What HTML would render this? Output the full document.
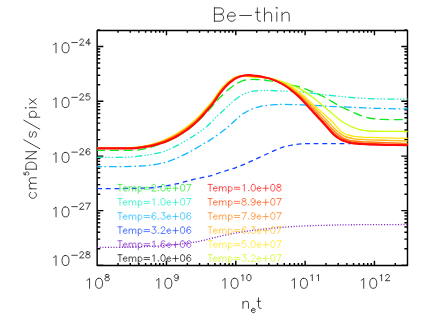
<!DOCTYPE html>
<html><head><meta charset="utf-8"><title>Be-thin</title>
<style>html,body{margin:0;padding:0;background:#fff;font-family:"Liberation Sans",sans-serif}svg{display:block}</style></head>
<body>
<svg width="436" height="327" viewBox="0 0 436 327">
<rect width="436" height="327" fill="#fff"/>
<defs><clipPath id="c"><rect x="97.15" y="30.5" width="310.75" height="234.95"/></clipPath></defs>
<path d="M97.15 30.5 H407.5 V265.45 H97.15 Z M97.15 265.45 v-4.7 M97.15 30.5 v4.7 M118.02 265.45 v-2.35 M118.02 30.5 v2.35 M130.22 265.45 v-2.35 M130.22 30.5 v2.35 M138.88 265.45 v-2.35 M138.88 30.5 v2.35 M145.6 265.45 v-2.35 M145.6 30.5 v2.35 M151.09 265.45 v-2.35 M151.09 30.5 v2.35 M155.73 265.45 v-2.35 M155.73 30.5 v2.35 M159.75 265.45 v-2.35 M159.75 30.5 v2.35 M163.3 265.45 v-2.35 M163.3 30.5 v2.35 M166.47 265.45 v-4.7 M166.47 30.5 v4.7 M187.34 265.45 v-2.35 M187.34 30.5 v2.35 M199.54 265.45 v-2.35 M199.54 30.5 v2.35 M208.2 265.45 v-2.35 M208.2 30.5 v2.35 M214.92 265.45 v-2.35 M214.92 30.5 v2.35 M220.41 265.45 v-2.35 M220.41 30.5 v2.35 M225.05 265.45 v-2.35 M225.05 30.5 v2.35 M229.07 265.45 v-2.35 M229.07 30.5 v2.35 M232.62 265.45 v-2.35 M232.62 30.5 v2.35 M235.79 265.45 v-4.7 M235.79 30.5 v4.7 M256.66 265.45 v-2.35 M256.66 30.5 v2.35 M268.86 265.45 v-2.35 M268.86 30.5 v2.35 M277.52 265.45 v-2.35 M277.52 30.5 v2.35 M284.24 265.45 v-2.35 M284.24 30.5 v2.35 M289.73 265.45 v-2.35 M289.73 30.5 v2.35 M294.37 265.45 v-2.35 M294.37 30.5 v2.35 M298.39 265.45 v-2.35 M298.39 30.5 v2.35 M301.94 265.45 v-2.35 M301.94 30.5 v2.35 M305.11 265.45 v-4.7 M305.11 30.5 v4.7 M325.97 265.45 v-2.35 M325.97 30.5 v2.35 M338.18 265.45 v-2.35 M338.18 30.5 v2.35 M346.84 265.45 v-2.35 M346.84 30.5 v2.35 M353.56 265.45 v-2.35 M353.56 30.5 v2.35 M359.05 265.45 v-2.35 M359.05 30.5 v2.35 M363.69 265.45 v-2.35 M363.69 30.5 v2.35 M367.71 265.45 v-2.35 M367.71 30.5 v2.35 M371.25 265.45 v-2.35 M371.25 30.5 v2.35 M374.43 265.45 v-4.7 M374.43 30.5 v4.7 M395.29 265.45 v-2.35 M395.29 30.5 v2.35 M407.5 265.45 v-2.35 M407.5 30.5 v2.35 M97.15 265.1 h6.2 M407.5 265.1 h-6.2 M97.15 248.69 h3.1 M407.5 248.69 h-3.1 M97.15 239.1 h3.1 M407.5 239.1 h-3.1 M97.15 232.29 h3.1 M407.5 232.29 h-3.1 M97.15 227.01 h3.1 M407.5 227.01 h-3.1 M97.15 222.69 h3.1 M407.5 222.69 h-3.1 M97.15 219.04 h3.1 M407.5 219.04 h-3.1 M97.15 215.88 h3.1 M407.5 215.88 h-3.1 M97.15 213.09 h3.1 M407.5 213.09 h-3.1 M97.15 210.6 h6.2 M407.5 210.6 h-6.2 M97.15 194.19 h3.1 M407.5 194.19 h-3.1 M97.15 184.6 h3.1 M407.5 184.6 h-3.1 M97.15 177.79 h3.1 M407.5 177.79 h-3.1 M97.15 172.51 h3.1 M407.5 172.51 h-3.1 M97.15 168.19 h3.1 M407.5 168.19 h-3.1 M97.15 164.54 h3.1 M407.5 164.54 h-3.1 M97.15 161.38 h3.1 M407.5 161.38 h-3.1 M97.15 158.59 h3.1 M407.5 158.59 h-3.1 M97.15 156.1 h6.2 M407.5 156.1 h-6.2 M97.15 139.6 h3.1 M407.5 139.6 h-3.1 M97.15 129.95 h3.1 M407.5 129.95 h-3.1 M97.15 123.11 h3.1 M407.5 123.11 h-3.1 M97.15 117.8 h3.1 M407.5 117.8 h-3.1 M97.15 113.46 h3.1 M407.5 113.46 h-3.1 M97.15 109.79 h3.1 M407.5 109.79 h-3.1 M97.15 106.61 h3.1 M407.5 106.61 h-3.1 M97.15 103.81 h3.1 M407.5 103.81 h-3.1 M97.15 101.3 h6.2 M407.5 101.3 h-6.2 M97.15 84.8 h3.1 M407.5 84.8 h-3.1 M97.15 75.15 h3.1 M407.5 75.15 h-3.1 M97.15 68.31 h3.1 M407.5 68.31 h-3.1 M97.15 63 h3.1 M407.5 63 h-3.1 M97.15 58.66 h3.1 M407.5 58.66 h-3.1 M97.15 54.99 h3.1 M407.5 54.99 h-3.1 M97.15 51.81 h3.1 M407.5 51.81 h-3.1 M97.15 49.01 h3.1 M407.5 49.01 h-3.1 M97.15 46.5 h6.2 M407.5 46.5 h-6.2 M97.15 30.03 h3.1 M407.5 30.03 h-3.1" fill="none" stroke="#000" stroke-width="1.45" stroke-linejoin="round" stroke-linecap="butt"/>
<path d="M214.43 7.86 L214.43 21.2 M214.43 7.86 L220.28 7.86 L222.23 8.5 L222.88 9.13 L223.53 10.4 L223.53 11.67 L222.88 12.94 L222.23 13.58 L220.28 14.21 M214.43 14.21 L220.28 14.21 L222.23 14.85 L222.88 15.48 L223.53 16.75 L223.53 18.66 L222.88 19.93 L222.23 20.56 L220.28 21.2 L214.43 21.2 M227.43 16.12 L235.23 16.12 L235.23 14.85 L234.58 13.58 L233.93 12.94 L232.62 12.31 L230.68 12.31 L229.38 12.94 L228.08 14.21 L227.43 16.12 L227.43 17.39 L228.08 19.29 L229.38 20.56 L230.68 21.2 L232.62 21.2 L233.93 20.56 L235.23 19.29 M239.78 15.48 L251.48 15.48 M257.32 7.86 L257.32 18.66 L257.98 20.56 L259.28 21.2 L260.57 21.2 M255.38 12.31 L259.93 12.31 M264.48 7.86 L264.48 21.2 M264.48 14.85 L266.43 12.94 L267.73 12.31 L269.68 12.31 L270.98 12.94 L271.62 14.85 L271.62 21.2 M276.18 7.86 L276.82 8.5 L277.48 7.86 L276.82 7.23 L276.18 7.86 M276.82 12.31 L276.82 21.2 M282.03 12.31 L282.03 21.2 M282.03 14.85 L283.98 12.94 L285.28 12.31 L287.23 12.31 L288.53 12.94 L289.18 14.85 L289.18 21.2 M87.05 280.23 L88.05 279.75 L89.55 278.32 L89.55 288.3 M98.55 278.32 L97.05 278.8 L96.05 280.23 L95.55 282.6 L95.55 284.03 L96.05 286.4 L97.05 287.82 L98.55 288.3 L99.55 288.3 L101.05 287.82 L102.05 286.4 L102.55 284.03 L102.55 282.6 L102.05 280.23 L101.05 278.8 L99.55 278.32 L98.55 278.32 M106.53 274.52 L105.6 274.81 L105.29 275.4 L105.29 275.99 L105.6 276.58 L106.22 276.87 L107.46 277.17 L108.39 277.46 L109.01 278.05 L109.32 278.64 L109.32 279.52 L109.01 280.11 L108.7 280.41 L107.77 280.7 L106.53 280.7 L105.6 280.41 L105.29 280.11 L104.98 279.52 L104.98 278.64 L105.29 278.05 L105.91 277.46 L106.84 277.17 L108.08 276.87 L108.7 276.58 L109.01 275.99 L109.01 275.4 L108.7 274.81 L107.77 274.52 L106.53 274.52 M156.37 280.23 L157.37 279.75 L158.87 278.32 L158.87 288.3 M167.87 278.32 L166.37 278.8 L165.37 280.23 L164.87 282.6 L164.87 284.03 L165.37 286.4 L166.37 287.82 L167.87 288.3 L168.87 288.3 L170.37 287.82 L171.37 286.4 L171.87 284.03 L171.87 282.6 L171.37 280.23 L170.37 278.8 L168.87 278.32 L167.87 278.32 M178.33 276.58 L178.02 277.46 L177.4 278.05 L176.47 278.34 L176.16 278.34 L175.23 278.05 L174.61 277.46 L174.3 276.58 L174.3 276.28 L174.61 275.4 L175.23 274.81 L176.16 274.52 L176.47 274.52 L177.4 274.81 L178.02 275.4 L178.33 276.58 L178.33 278.05 L178.02 279.52 L177.4 280.41 L176.47 280.7 L175.85 280.7 L174.92 280.41 L174.61 279.82 M222.59 280.23 L223.59 279.75 L225.09 278.32 L225.09 288.3 M234.09 278.32 L232.59 278.8 L231.59 280.23 L231.09 282.6 L231.09 284.03 L231.59 286.4 L232.59 287.82 L234.09 288.3 L235.09 288.3 L236.59 287.82 L237.59 286.4 L238.09 284.03 L238.09 282.6 L237.59 280.23 L236.59 278.8 L235.09 278.32 L234.09 278.32 M241.45 275.69 L242.07 275.4 L243 274.52 L243 280.7 M248.58 274.52 L247.65 274.81 L247.03 275.69 L246.72 277.17 L246.72 278.05 L247.03 279.52 L247.65 280.41 L248.58 280.7 L249.2 280.7 L250.13 280.41 L250.75 279.52 L251.06 278.05 L251.06 277.17 L250.75 275.69 L250.13 274.81 L249.2 274.52 L248.58 274.52 M291.91 280.23 L292.91 279.75 L294.41 278.32 L294.41 288.3 M303.41 278.32 L301.91 278.8 L300.91 280.23 L300.41 282.6 L300.41 284.03 L300.91 286.4 L301.91 287.82 L303.41 288.3 L304.41 288.3 L305.91 287.82 L306.91 286.4 L307.41 284.03 L307.41 282.6 L306.91 280.23 L305.91 278.8 L304.41 278.32 L303.41 278.32 M310.77 275.69 L311.39 275.4 L312.32 274.52 L312.32 280.7 M316.97 275.69 L317.59 275.4 L318.52 274.52 L318.52 280.7 M361.23 280.23 L362.23 279.75 L363.73 278.32 L363.73 288.3 M372.73 278.32 L371.23 278.8 L370.23 280.23 L369.73 282.6 L369.73 284.03 L370.23 286.4 L371.23 287.82 L372.73 288.3 L373.73 288.3 L375.23 287.82 L376.23 286.4 L376.73 284.03 L376.73 282.6 L376.23 280.23 L375.23 278.8 L373.73 278.32 L372.73 278.32 M380.09 275.69 L380.71 275.4 L381.64 274.52 L381.64 280.7 M385.67 275.99 L385.67 275.69 L385.98 275.1 L386.29 274.81 L386.91 274.52 L388.15 274.52 L388.77 274.81 L389.08 275.1 L389.39 275.69 L389.39 276.28 L389.08 276.87 L388.46 277.75 L385.36 280.7 L389.7 280.7 M53.54 257.43 L54.54 256.95 L56.04 255.53 L56.04 265.5 M65.04 255.53 L63.54 256 L62.54 257.43 L62.04 259.8 L62.04 261.23 L62.54 263.6 L63.54 265.02 L65.04 265.5 L66.04 265.5 L67.54 265.02 L68.54 263.6 L69.04 261.23 L69.04 259.8 L68.54 257.43 L67.54 256 L66.04 255.53 L65.04 255.53 M71.78 255.25 L77.36 255.25 M79.84 253.19 L79.84 252.89 L80.15 252.3 L80.46 252.01 L81.08 251.72 L82.32 251.72 L82.94 252.01 L83.25 252.3 L83.56 252.89 L83.56 253.48 L83.25 254.07 L82.63 254.96 L79.53 257.9 L83.87 257.9 M87.28 251.72 L86.35 252.01 L86.04 252.6 L86.04 253.19 L86.35 253.78 L86.97 254.07 L88.21 254.37 L89.14 254.66 L89.76 255.25 L90.07 255.84 L90.07 256.72 L89.76 257.31 L89.45 257.61 L88.52 257.9 L87.28 257.9 L86.35 257.61 L86.04 257.31 L85.73 256.72 L85.73 255.84 L86.04 255.25 L86.66 254.66 L87.59 254.37 L88.83 254.07 L89.45 253.78 L89.76 253.19 L89.76 252.6 L89.45 252.01 L88.52 251.72 L87.28 251.72 M53.54 208.83 L54.54 208.35 L56.04 206.93 L56.04 216.9 M65.04 206.93 L63.54 207.4 L62.54 208.83 L62.04 211.2 L62.04 212.62 L62.54 215 L63.54 216.43 L65.04 216.9 L66.04 216.9 L67.54 216.43 L68.54 215 L69.04 212.62 L69.04 211.2 L68.54 208.83 L67.54 207.4 L66.04 206.93 L65.04 206.93 M71.78 206.65 L77.36 206.65 M79.84 204.59 L79.84 204.29 L80.15 203.7 L80.46 203.41 L81.08 203.12 L82.32 203.12 L82.94 203.41 L83.25 203.7 L83.56 204.29 L83.56 204.88 L83.25 205.47 L82.63 206.36 L79.53 209.3 L83.87 209.3 M90.07 203.12 L86.97 209.3 M85.73 203.12 L90.07 203.12 M53.54 154.33 L54.54 153.85 L56.04 152.43 L56.04 162.4 M65.04 152.43 L63.54 152.9 L62.54 154.33 L62.04 156.7 L62.04 158.12 L62.54 160.5 L63.54 161.93 L65.04 162.4 L66.04 162.4 L67.54 161.93 L68.54 160.5 L69.04 158.12 L69.04 156.7 L68.54 154.33 L67.54 152.9 L66.04 152.43 L65.04 152.43 M71.78 152.15 L77.36 152.15 M79.84 150.09 L79.84 149.79 L80.15 149.2 L80.46 148.91 L81.08 148.62 L82.32 148.62 L82.94 148.91 L83.25 149.2 L83.56 149.79 L83.56 150.38 L83.25 150.97 L82.63 151.86 L79.53 154.8 L83.87 154.8 M89.76 149.5 L89.45 148.91 L88.52 148.62 L87.9 148.62 L86.97 148.91 L86.35 149.79 L86.04 151.27 L86.04 152.74 L86.35 153.92 L86.97 154.51 L87.9 154.8 L88.21 154.8 L89.14 154.51 L89.76 153.92 L90.07 153.03 L90.07 152.74 L89.76 151.86 L89.14 151.27 L88.21 150.97 L87.9 150.97 L86.97 151.27 L86.35 151.86 L86.04 152.74 M53.54 99.52 L54.54 99.05 L56.04 97.62 L56.04 107.6 M65.04 97.62 L63.54 98.1 L62.54 99.52 L62.04 101.9 L62.04 103.32 L62.54 105.7 L63.54 107.12 L65.04 107.6 L66.04 107.6 L67.54 107.12 L68.54 105.7 L69.04 103.32 L69.04 101.9 L68.54 99.52 L67.54 98.1 L66.04 97.62 L65.04 97.62 M71.78 97.35 L77.36 97.35 M79.84 95.29 L79.84 94.99 L80.15 94.4 L80.46 94.11 L81.08 93.82 L82.32 93.82 L82.94 94.11 L83.25 94.4 L83.56 94.99 L83.56 95.58 L83.25 96.17 L82.63 97.05 L79.53 100 L83.87 100 M89.45 93.82 L86.35 93.82 L86.04 96.47 L86.35 96.17 L87.28 95.88 L88.21 95.88 L89.14 96.17 L89.76 96.76 L90.07 97.64 L90.07 98.23 L89.76 99.12 L89.14 99.71 L88.21 100 L87.28 100 L86.35 99.71 L86.04 99.41 L85.73 98.82 M53.54 44.72 L54.54 44.25 L56.04 42.82 L56.04 52.8 M65.04 42.82 L63.54 43.3 L62.54 44.72 L62.04 47.1 L62.04 48.52 L62.54 50.9 L63.54 52.32 L65.04 52.8 L66.04 52.8 L67.54 52.32 L68.54 50.9 L69.04 48.52 L69.04 47.1 L68.54 44.72 L67.54 43.3 L66.04 42.82 L65.04 42.82 M71.78 42.55 L77.36 42.55 M79.84 40.49 L79.84 40.19 L80.15 39.6 L80.46 39.31 L81.08 39.02 L82.32 39.02 L82.94 39.31 L83.25 39.6 L83.56 40.19 L83.56 40.78 L83.25 41.37 L82.63 42.25 L79.53 45.2 L83.87 45.2 M88.83 39.02 L85.73 43.14 L90.38 43.14 M88.83 39.02 L88.83 45.2 M242.96 301.3 L242.96 308.3 M242.96 303.3 L244.46 301.8 L245.46 301.3 L246.96 301.3 L247.96 301.8 L248.46 303.3 L248.46 308.3 M251.39 310.17 L255.11 310.17 L255.11 309.55 L254.8 308.93 L254.49 308.62 L253.87 308.31 L252.94 308.31 L252.32 308.62 L251.7 309.24 L251.39 310.17 L251.39 310.79 L251.7 311.72 L252.32 312.34 L252.94 312.65 L253.87 312.65 L254.49 312.34 L255.11 311.72 M258.54 297.8 L258.54 306.3 L259.04 307.8 L260.04 308.3 L261.04 308.3 M257.04 301.3 L260.54 301.3 M30.8 192.3 L29.8 193.3 L29.3 194.3 L29.3 195.8 L29.8 196.8 L30.8 197.8 L32.3 198.3 L33.3 198.3 L34.8 197.8 L35.8 196.8 L36.3 195.8 L36.3 194.3 L35.8 193.3 L34.8 192.3 M29.3 188.8 L36.3 188.8 M31.3 188.8 L29.8 187.3 L29.3 186.3 L29.3 184.8 L29.8 183.8 L31.3 183.3 L36.3 183.3 M31.3 183.3 L29.8 181.8 L29.3 180.8 L29.3 179.3 L29.8 178.3 L31.3 177.8 L36.3 177.8 M23.97 172.35 L23.97 174.65 L26.04 174.88 L25.81 174.65 L25.58 173.96 L25.58 173.27 L25.81 172.58 L26.27 172.12 L26.96 171.89 L27.42 171.89 L28.11 172.12 L28.57 172.58 L28.8 173.27 L28.8 173.96 L28.57 174.65 L28.34 174.88 L27.88 175.11 M25.8 169.2 L36.3 169.2 M25.8 169.2 L25.8 165.7 L26.3 164.2 L27.3 163.2 L28.3 162.7 L29.8 162.2 L32.3 162.2 L33.8 162.7 L34.8 163.2 L35.8 164.2 L36.3 165.7 L36.3 169.2 M25.8 158.7 L36.3 158.7 M25.8 158.7 L36.3 151.7 M25.8 151.7 L36.3 151.7 M23.8 139.7 L39.8 148.7 M30.8 131.7 L29.8 132.2 L29.3 133.7 L29.3 135.2 L29.8 136.7 L30.8 137.2 L31.8 136.7 L32.3 135.7 L32.8 133.2 L33.3 132.2 L34.3 131.7 L34.8 131.7 L35.8 132.2 L36.3 133.7 L36.3 135.2 L35.8 136.7 L34.8 137.2 M23.8 120.2 L39.8 129.2 M29.3 117.2 L39.8 117.2 M30.8 117.2 L29.8 116.2 L29.3 115.2 L29.3 113.7 L29.8 112.7 L30.8 111.7 L32.3 111.2 L33.3 111.2 L34.8 111.7 L35.8 112.7 L36.3 113.7 L36.3 115.2 L35.8 116.2 L34.8 117.2 M25.8 108.2 L26.3 107.7 L25.8 107.2 L25.3 107.7 L25.8 108.2 M29.3 107.7 L36.3 107.7 M29.3 104.2 L36.3 98.7 M29.3 98.7 L36.3 104.2" fill="none" stroke="#000" stroke-width="0.75" stroke-linecap="round" stroke-linejoin="round"/>
<g clip-path="url(#c)" fill="none" stroke-linecap="butt" stroke-linejoin="round">
<path d="M97 247.5 C101.67 247.45 115.77 247.4 125 247.2 C134.23 247 144.48 246.68 152.4 246.3 C160.32 245.92 166.45 245.47 172.5 244.9 C178.55 244.33 184.12 243.52 188.7 242.9 C193.28 242.28 194.75 242.32 200 241.2 C205.25 240.08 213.47 237.7 220.2 236.2 C226.93 234.7 233.68 233.32 240.4 232.2 C247.12 231.08 252.57 230.38 260.5 229.5 C268.43 228.62 280.05 227.52 288 226.9 C295.95 226.28 301.47 226.08 308.2 225.8 C314.93 225.52 321.68 225.37 328.4 225.2 C335.12 225.03 340.57 224.9 348.5 224.8 C356.43 224.7 366.13 224.65 376 224.6 C385.87 224.55 402.42 224.52 407.7 224.5" stroke="#7a1fc8" stroke-width="1.3" stroke-dasharray="1.05 1.7"/>
<path d="M97 188.6 C101.67 188.58 116.17 188.63 125 188.5 C133.83 188.37 143.53 188.2 150 187.8 C156.47 187.4 159.22 186.78 163.8 186.1 C168.38 185.42 172.92 184.72 177.5 183.7 C182.08 182.68 186.72 181.12 191.3 180 C195.88 178.88 201.8 177.68 205 177 C208.2 176.32 208.2 176.57 210.5 175.9 C212.8 175.23 216.05 173.92 218.8 173 C221.55 172.08 224.25 171.27 227 170.4 C229.75 169.53 232.55 168.75 235.3 167.8 C238.05 166.85 240.75 165.85 243.5 164.7 C246.25 163.55 249.12 162.13 251.8 160.9 C254.48 159.67 256.92 158.53 259.6 157.3 C262.28 156.07 265.15 154.75 267.9 153.5 C270.65 152.25 273.35 150.93 276.1 149.8 C278.85 148.67 281.63 147.5 284.4 146.7 C287.17 145.9 289.95 145.47 292.7 145 C295.45 144.53 298.02 144.13 300.9 143.9 C303.78 143.67 303.48 143.65 310 143.6 C316.52 143.55 333.17 143.6 340 143.6 C346.83 143.6 349.17 143.6 351 143.6" stroke="#1040ff" stroke-width="1.3" stroke-dasharray="4.8 3.8" stroke-dashoffset="8.3"/>
<path d="M97 166.65 C101.67 166.64 117.83 166.71 125 166.6 C132.17 166.49 135.83 166.23 140 166 C144.17 165.77 146.03 165.73 150 165.2 C153.97 164.67 159.22 164.03 163.8 162.8 C168.38 161.57 172.92 159.77 177.5 157.8 C182.08 155.83 186.72 153.48 191.3 151 C195.88 148.52 201.88 144.72 205 142.9 C208.12 141.08 206.45 142.53 210 140.1 C213.55 137.67 221.3 132.32 226.3 128.3 C231.3 124.28 236.88 118.62 240 116 C243.12 113.38 243 113.77 245 112.6 C247 111.43 249.67 109.97 252 109 C254.33 108.03 256.83 107.37 259 106.8 C261.17 106.23 262.33 105.95 265 105.6 C267.67 105.25 271.87 104.9 275 104.7 C278.13 104.5 280.05 104.4 283.8 104.4 C287.55 104.4 292.92 104.57 297.5 104.7 C302.08 104.83 306.3 104.95 311.3 105.2 C316.3 105.45 322.72 105.93 327.5 106.2 C332.28 106.47 335.42 106.6 340 106.8 C344.58 107 350.2 107.18 355 107.4 C359.8 107.62 364.22 107.92 368.8 108.1 C373.38 108.28 377.92 108.38 382.5 108.5 C387.08 108.62 392.1 108.73 396.3 108.8 C400.5 108.87 405.8 108.88 407.7 108.9" stroke="#10b8ff" stroke-width="1.3" stroke-dasharray="7.5 2.7 1.7 2.9" stroke-dashoffset="2.6"/>
<path d="M97 157.3 C101.67 157.3 117.83 157.52 125 157.3 C132.17 157.08 135.83 156.45 140 156 C144.17 155.55 146.03 155.35 150 154.6 C153.97 153.85 159.22 153.05 163.8 151.5 C168.38 149.95 172.92 147.67 177.5 145.3 C182.08 142.93 186.72 140.18 191.3 137.3 C195.88 134.42 201.47 130.73 205 128 C208.53 125.27 210.27 123.08 212.5 120.9 C214.73 118.72 216.73 116.5 218.4 114.9 C220.07 113.3 221.12 112.62 222.5 111.3 C223.88 109.98 225.17 108.42 226.7 107 C228.23 105.58 230.15 104.12 231.7 102.8 C233.25 101.48 234.2 100.47 236 99.1 C237.8 97.73 240.27 95.78 242.5 94.6 C244.73 93.42 247.1 92.62 249.4 92 C251.7 91.38 254 91.13 256.3 90.9 C258.6 90.67 260.92 90.67 263.2 90.6 C265.48 90.53 266.57 90.42 270 90.5 C273.43 90.58 279.22 90.88 283.8 91.1 C288.38 91.32 292.92 91.47 297.5 91.8 C302.08 92.13 306.72 92.6 311.3 93.1 C315.88 93.6 320.22 94.25 325 94.8 C329.78 95.35 335 95.9 340 96.4 C345 96.9 350.2 97.43 355 97.8 C359.8 98.17 364.22 98.4 368.8 98.6 C373.38 98.8 377.92 98.9 382.5 99 C387.08 99.1 392.1 99.17 396.3 99.2 C400.5 99.23 405.8 99.2 407.7 99.2" stroke="#10f0c0" stroke-width="1.3" stroke-dasharray="7 2.5 1.3 1.8 1.3 1.8 1.3 2.5" stroke-dashoffset="1"/>
<path d="M97 150.3 C101.67 150.3 118.5 150.32 125 150.3 C131.5 150.28 132.63 150.47 136 150.2 C139.37 149.93 142.15 149.35 145.2 148.67 C148.25 147.99 151.25 147.1 154.3 146.14 C157.35 145.19 160.43 144.16 163.5 142.95 C166.57 141.75 170.08 140.2 172.7 138.93 C175.32 137.66 177.07 136.59 179.2 135.33 C181.33 134.07 183.53 132.74 185.5 131.37 C187.47 130 189.17 128.59 191 127.13 C192.83 125.67 194.1 124.83 196.5 122.59 C198.9 120.36 202.58 116.67 205.4 113.73 C208.22 110.79 211.43 107.17 213.4 104.95 C215.37 102.72 215.77 101.95 217.2 100.36 C218.63 98.78 220.23 97.17 222 95.44 C223.77 93.72 225.88 91.66 227.8 90.02 C229.72 88.39 232 86.74 233.5 85.65 C235 84.57 235.22 84.35 236.8 83.51 C238.38 82.68 240.9 81.32 243 80.66 C245.1 80.01 247.18 79.79 249.4 79.6 C251.62 79.41 254 79.45 256.3 79.5 C258.6 79.55 260.92 79.67 263.2 79.9 C265.48 80.13 267.72 80.55 270 80.9 C272.28 81.25 274.6 81.57 276.9 82 C279.2 82.43 281.52 83 283.8 83.5 C286.08 84 288.32 84.5 290.6 85 C292.88 85.5 295.2 85.9 297.5 86.5 C299.8 87.1 302.1 87.8 304.4 88.6 C306.7 89.4 309 90.38 311.3 91.3 C313.6 92.22 315.92 93.07 318.2 94.1 C320.48 95.13 322.75 96.28 325 97.5 C327.25 98.72 328.98 99.83 331.7 101.4 C334.42 102.97 338.33 105.38 341.3 106.9 C344.27 108.42 347.22 109.45 349.5 110.5 C351.78 111.55 352.93 112.28 355 113.2 C357.07 114.12 359.6 115.2 361.9 116 C364.2 116.8 366.52 117.5 368.8 118 C371.08 118.5 373.32 118.77 375.6 119 C377.88 119.23 379.05 119.28 382.5 119.4 C385.95 119.52 392.1 119.65 396.3 119.7 C400.5 119.75 405.8 119.7 407.7 119.7" stroke="#10e820" stroke-width="1.3" stroke-dasharray="9.2 4.5" stroke-dashoffset="0.9"/>
<path d="M97 147.8 C101.67 147.8 118.5 147.82 125 147.8 C131.5 147.78 132.63 147.95 136 147.7 C139.37 147.45 142.15 146.92 145.2 146.32 C148.25 145.72 151.25 144.97 154.3 144.1 C157.35 143.23 160.43 142.29 163.5 141.09 C166.57 139.89 170.08 138.23 172.7 136.9 C175.32 135.56 177.07 134.41 179.2 133.09 C181.33 131.77 183.53 130.4 185.5 129 C187.47 127.6 189.17 126.2 191 124.7 C192.83 123.2 194.1 122.37 196.5 120 C198.9 117.63 202.58 113.67 205.4 110.5 C208.22 107.33 211.43 103.52 213.4 101 C215.37 98.48 215.77 97.37 217.2 95.39 C218.63 93.4 220.23 91.16 222 89.08 C223.77 87 225.88 84.62 227.8 82.91 C229.72 81.2 232 79.78 233.5 78.82 C235 77.85 235.22 77.6 236.8 77.11 C238.38 76.62 240.9 75.94 243 75.87 C245.1 75.8 247.18 76.5 249.4 76.7 C251.62 76.9 254 76.95 256.3 77.1 C258.6 77.25 260.92 77.38 263.2 77.6 C265.48 77.82 267.72 78.03 270 78.4 C272.28 78.77 274.6 79.2 276.9 79.8 C279.2 80.4 281.52 81.2 283.8 82 C286.08 82.8 288.32 83.67 290.6 84.6 C292.88 85.53 295.2 86.43 297.5 87.6 C299.8 88.77 301.85 89.98 304.4 91.6 C306.95 93.22 309.83 95.07 312.8 97.3 C315.77 99.53 319.47 102.72 322.2 105 C324.93 107.28 326.97 109.08 329.2 111 C331.43 112.92 333.57 114.83 335.6 116.5 C337.63 118.17 339.45 119.62 341.4 121 C343.35 122.38 345.37 123.73 347.3 124.8 C349.23 125.87 351.22 126.7 353 127.4 C354.78 128.1 356.62 128.57 358 129 C359.38 129.43 359.52 129.67 361.3 130 C363.08 130.33 364.58 130.77 368.7 131 C372.82 131.23 379.5 131.32 386 131.4 C392.5 131.48 404.08 131.48 407.7 131.5" stroke="#c8ff10" stroke-width="1.3"/>
<path d="M97 147.55 C101.67 147.55 118.5 147.57 125 147.55 C131.5 147.53 132.63 147.72 136 147.45 C139.37 147.18 142.15 146.6 145.2 145.94 C148.25 145.29 151.25 144.45 154.3 143.51 C157.35 142.57 160.43 141.56 163.5 140.29 C166.57 139.02 170.08 137.29 172.7 135.9 C175.32 134.51 177.07 133.3 179.2 131.95 C181.33 130.6 183.53 129.21 185.5 127.8 C187.47 126.39 189.17 125 191 123.5 C192.83 122 194.1 121.17 196.5 118.8 C198.9 116.43 202.58 112.47 205.4 109.3 C208.22 106.13 211.43 102.31 213.4 99.8 C215.37 97.29 215.77 96.2 217.2 94.24 C218.63 92.28 220.23 90.08 222 88.05 C223.77 86.01 225.88 83.67 227.8 82.02 C229.72 80.37 232 79.06 233.5 78.16 C235 77.27 235.22 77.06 236.8 76.64 C238.38 76.22 240.9 75.64 243 75.63 C245.1 75.63 247.18 76.37 249.4 76.6 C251.62 76.83 254 76.83 256.3 77 C258.6 77.17 260.92 77.35 263.2 77.6 C265.48 77.85 267.72 78.07 270 78.5 C272.28 78.93 274.6 79.45 276.9 80.2 C279.2 80.95 281.52 81.95 283.8 83 C286.08 84.05 288.32 85.2 290.6 86.5 C292.88 87.8 295.02 89 297.5 90.8 C299.98 92.6 302.72 94.87 305.5 97.3 C308.28 99.73 311.28 102.73 314.2 105.4 C317.12 108.07 320.15 110.75 323 113.3 C325.85 115.85 328.83 118.25 331.3 120.7 C333.77 123.15 336.1 126.15 337.8 128 C339.5 129.85 340.3 130.83 341.5 131.8 C342.7 132.77 343.92 133.27 345 133.8 C346.08 134.33 346.5 134.58 348 135 C349.5 135.42 351.83 135.97 354 136.3 C356.17 136.63 358.55 136.82 361 137 C363.45 137.18 364.53 137.27 368.7 137.4 C372.87 137.53 379.5 137.63 386 137.8 C392.5 137.97 404.08 138.3 407.7 138.4" stroke="#ffe810" stroke-width="1.3"/>
<path d="M97 147.55 C101.67 147.55 118.5 147.57 125 147.55 C131.5 147.53 132.63 147.7 136 147.45 C139.37 147.2 142.15 146.66 145.2 146.05 C148.25 145.44 151.25 144.68 154.3 143.8 C157.35 142.91 160.43 141.96 163.5 140.75 C166.57 139.54 170.08 137.87 172.7 136.53 C175.32 135.19 177.07 134.02 179.2 132.7 C181.33 131.38 183.53 130 185.5 128.6 C187.47 127.2 189.17 125.8 191 124.3 C192.83 122.8 194.1 121.97 196.5 119.6 C198.9 117.23 202.58 113.27 205.4 110.1 C208.22 106.93 211.43 103.12 213.4 100.6 C215.37 98.08 215.77 96.98 217.2 95.01 C218.63 93.03 220.23 90.8 222 88.74 C223.77 86.67 225.88 84.3 227.8 82.61 C229.72 80.92 232 79.54 233.5 78.6 C235 77.65 235.22 77.44 236.8 76.95 C238.38 76.47 240.9 75.78 243 75.67 C245.1 75.57 247.18 76.11 249.4 76.3 C251.62 76.49 254 76.6 256.3 76.8 C258.6 77 260.92 77.23 263.2 77.5 C265.48 77.77 267.72 77.88 270 78.4 C272.28 78.92 274.6 79.72 276.9 80.6 C279.2 81.48 281.52 82.53 283.8 83.7 C286.08 84.87 287.35 85.33 290.6 87.6 C293.85 89.87 299.77 94.33 303.3 97.3 C306.83 100.27 309.02 102.73 311.8 105.4 C314.58 108.07 317.4 110.75 320 113.3 C322.6 115.85 325.07 118.25 327.4 120.7 C329.73 123.15 332.15 126.07 334 128 C335.85 129.93 337.17 131.18 338.5 132.3 C339.83 133.42 340.92 134.02 342 134.7 C343.08 135.38 344 135.93 345 136.4 C346 136.87 346.5 137.1 348 137.5 C349.5 137.9 351.83 138.48 354 138.8 C356.17 139.12 358.55 139.23 361 139.4 C363.45 139.57 364.53 139.65 368.7 139.8 C372.87 139.95 379.5 140.1 386 140.3 C392.5 140.5 404.08 140.88 407.7 141" stroke="#ffb810" stroke-width="1.3"/>
<path d="M97 147.65 C101.67 147.65 118.5 147.67 125 147.65 C131.5 147.63 132.63 147.79 136 147.55 C139.37 147.31 142.15 146.81 145.2 146.24 C148.25 145.67 151.25 144.98 154.3 144.15 C157.35 143.32 160.43 142.42 163.5 141.26 C166.57 140.1 170.08 138.48 172.7 137.18 C175.32 135.88 177.07 134.75 179.2 133.45 C181.33 132.16 183.53 130.79 185.5 129.4 C187.47 128.01 189.17 126.6 191 125.1 C192.83 123.6 194.1 122.77 196.5 120.4 C198.9 118.03 202.58 114.07 205.4 110.9 C208.22 107.73 211.43 103.92 213.4 101.4 C215.37 98.88 215.77 97.77 217.2 95.77 C218.63 93.77 220.23 91.52 222 89.42 C223.77 87.33 225.88 84.94 227.8 83.21 C229.72 81.48 232 80.02 233.5 79.03 C235 78.04 235.22 77.82 236.8 77.27 C238.38 76.72 240.9 75.93 243 75.71 C245.1 75.5 247.18 75.87 249.4 76 C251.62 76.13 254 76.28 256.3 76.5 C258.6 76.72 260.92 76.95 263.2 77.3 C265.48 77.65 267.72 77.98 270 78.6 C272.28 79.22 274.6 80.05 276.9 81 C279.2 81.95 281.52 83.05 283.8 84.3 C286.08 85.55 287.65 86.33 290.6 88.5 C293.55 90.67 298.33 94.48 301.5 97.3 C304.67 100.12 306.95 102.73 309.6 105.4 C312.25 108.07 314.9 110.75 317.4 113.3 C319.9 115.85 322.3 118.25 324.6 120.7 C326.9 123.15 329.27 125.95 331.2 128 C333.13 130.05 334.62 131.6 336.2 133 C337.78 134.4 339.4 135.52 340.7 136.4 C342 137.28 342.78 137.73 344 138.3 C345.22 138.87 346.33 139.35 348 139.8 C349.67 140.25 351.83 140.7 354 141 C356.17 141.3 358.55 141.43 361 141.6 C363.45 141.77 364.53 141.83 368.7 142 C372.87 142.17 379.5 142.33 386 142.6 C392.5 142.87 404.08 143.43 407.7 143.6" stroke="#ff8010" stroke-width="1.3"/>
<path d="M97 147.8 C101.67 147.8 118.5 147.82 125 147.8 C131.5 147.78 132.63 147.92 136 147.7 C139.37 147.48 142.15 147 145.2 146.47 C148.25 145.95 151.25 145.31 154.3 144.53 C157.35 143.75 160.43 142.9 163.5 141.78 C166.57 140.67 170.08 139.1 172.7 137.84 C175.32 136.58 177.07 135.49 179.2 134.21 C181.33 132.94 183.53 131.59 185.5 130.2 C187.47 128.81 189.17 127.4 191 125.9 C192.83 124.4 194.1 123.57 196.5 121.2 C198.9 118.83 202.58 114.87 205.4 111.7 C208.22 108.53 211.43 104.73 213.4 102.2 C215.37 99.67 215.77 98.55 217.2 96.54 C218.63 94.52 220.23 92.23 222 90.11 C223.77 87.99 225.88 85.58 227.8 83.8 C229.72 82.03 232 80.5 233.5 79.47 C235 78.43 235.22 78.21 236.8 77.58 C238.38 76.96 240.9 76.05 243 75.72 C245.1 75.39 247.18 75.52 249.4 75.6 C251.62 75.68 254 75.95 256.3 76.2 C258.6 76.45 260.92 76.68 263.2 77.1 C265.48 77.52 267.72 78 270 78.7 C272.28 79.4 274.6 80.28 276.9 81.3 C279.2 82.32 281.52 83.47 283.8 84.8 C286.08 86.13 287.85 87.22 290.6 89.3 C293.35 91.38 297.38 94.62 300.3 97.3 C303.22 99.98 305.58 102.73 308.1 105.4 C310.62 108.07 313.02 110.75 315.4 113.3 C317.78 115.85 320.13 118.25 322.4 120.7 C324.67 123.15 326.98 125.82 329 128 C331.02 130.18 333 132.38 334.5 133.8 C336 135.22 336.83 135.72 338 136.5 C339.17 137.28 340.33 137.93 341.5 138.5 C342.67 139.07 343.75 139.43 345 139.9 C346.25 140.37 347.5 140.88 349 141.3 C350.5 141.72 352 142.12 354 142.4 C356 142.68 358.55 142.82 361 143 C363.45 143.18 364.53 143.32 368.7 143.5 C372.87 143.68 379.5 143.92 386 144.1 C392.5 144.28 404.08 144.52 407.7 144.6" stroke="#ff4808" stroke-width="1.3"/>
<path d="M97 148.4 C101.67 148.4 118.5 148.42 125 148.4 C131.5 148.38 132.63 148.52 136 148.3 C139.37 148.08 142.15 147.62 145.2 147.1 C148.25 146.58 151.25 145.97 154.3 145.2 C157.35 144.43 160.43 143.6 163.5 142.5 C166.57 141.4 170.08 139.85 172.7 138.6 C175.32 137.35 177.07 136.27 179.2 135 C181.33 133.73 183.53 132.38 185.5 131 C187.47 129.62 189.17 128.2 191 126.7 C192.83 125.2 194.1 124.37 196.5 122 C198.9 119.63 202.58 115.67 205.4 112.5 C208.22 109.33 211.43 105.53 213.4 103 C215.37 100.47 215.77 99.33 217.2 97.3 C218.63 95.27 220.23 92.95 222 90.8 C223.77 88.65 225.88 86.22 227.8 84.4 C229.72 82.58 232 80.98 233.5 79.9 C235 78.82 235.22 78.6 236.8 77.9 C238.38 77.2 240.9 76.17 243 75.7 C245.1 75.23 247.18 75.08 249.4 75.1 C251.62 75.12 254 75.5 256.3 75.8 C258.6 76.1 260.92 76.43 263.2 76.9 C265.48 77.37 267.72 77.85 270 78.6 C272.28 79.35 274.6 80.33 276.9 81.4 C279.2 82.47 281.52 83.62 283.8 85 C286.08 86.38 288.02 87.65 290.6 89.7 C293.18 91.75 296.57 94.68 299.3 97.3 C302.03 99.92 304.52 102.73 307 105.4 C309.48 108.07 311.83 110.75 314.2 113.3 C316.57 115.85 318.93 118.25 321.2 120.7 C323.47 123.15 325.78 125.73 327.8 128 C329.82 130.27 331.77 132.75 333.3 134.3 C334.83 135.85 335.77 136.42 337 137.3 C338.23 138.18 339.53 138.98 340.7 139.6 C341.87 140.22 342.78 140.55 344 141 C345.22 141.45 346.33 141.88 348 142.3 C349.67 142.72 351.83 143.22 354 143.5 C356.17 143.78 358.55 143.85 361 144 C363.45 144.15 364.53 144.25 368.7 144.4 C372.87 144.55 379.5 144.75 386 144.9 C392.5 145.05 404.08 145.23 407.7 145.3" stroke="#ff0808" stroke-width="2.0"/>
</g>
<g fill="none" stroke-linecap="round" stroke-linejoin="round">
<path d="M119.94 184.38 L119.94 191.1 M117.81 184.38 L122.08 184.38 M123.31 188.54 L126.97 188.54 L126.97 187.9 L126.67 187.26 L126.36 186.94 L125.75 186.62 L124.83 186.62 L124.22 186.94 L123.61 187.58 L123.31 188.54 L123.31 189.18 L123.61 190.14 L124.22 190.78 L124.83 191.1 L125.75 191.1 L126.36 190.78 L126.97 190.14 M129.11 186.62 L129.11 191.1 M129.11 187.9 L130.03 186.94 L130.64 186.62 L131.56 186.62 L132.17 186.94 L132.47 187.9 L132.47 191.1 M132.47 187.9 L133.39 186.94 L134 186.62 L134.92 186.62 L135.53 186.94 L135.84 187.9 L135.84 191.1 M138.28 186.62 L138.28 193.34 M138.28 187.58 L138.89 186.94 L139.5 186.62 L140.42 186.62 L141.03 186.94 L141.64 187.58 L141.95 188.54 L141.95 189.18 L141.64 190.14 L141.03 190.78 L140.42 191.1 L139.5 191.1 L138.89 190.78 L138.28 190.14 M144.09 187.26 L149.59 187.26 M144.09 189.18 L149.59 189.18 M152.03 185.98 L152.03 185.66 L152.34 185.02 L152.64 184.7 L153.26 184.38 L154.48 184.38 L155.09 184.7 L155.39 185.02 L155.7 185.66 L155.7 186.3 L155.39 186.94 L154.78 187.9 L151.73 191.1 L156.01 191.1 M158.45 190.46 L158.14 190.78 L158.45 191.1 L158.76 190.78 L158.45 190.46 M162.73 184.38 L161.81 184.7 L161.2 185.66 L160.9 187.26 L160.9 188.22 L161.2 189.82 L161.81 190.78 L162.73 191.1 L163.34 191.1 L164.26 190.78 L164.87 189.82 L165.17 188.22 L165.17 187.26 L164.87 185.66 L164.26 184.7 L163.34 184.38 L162.73 184.38 M167.01 188.54 L170.67 188.54 L170.67 187.9 L170.37 187.26 L170.06 186.94 L169.45 186.62 L168.54 186.62 L167.92 186.94 L167.31 187.58 L167.01 188.54 L167.01 189.18 L167.31 190.14 L167.92 190.78 L168.54 191.1 L169.45 191.1 L170.06 190.78 L170.67 190.14 M175.56 185.34 L175.56 191.1 M172.81 188.22 L178.31 188.22 M182.29 184.38 L181.37 184.7 L180.76 185.66 L180.45 187.26 L180.45 188.22 L180.76 189.82 L181.37 190.78 L182.29 191.1 L182.9 191.1 L183.82 190.78 L184.43 189.82 L184.73 188.22 L184.73 187.26 L184.43 185.66 L183.82 184.7 L182.9 184.38 L182.29 184.38 M190.84 184.38 L187.79 191.1 M186.57 184.38 L190.84 184.38" stroke="#10e820" stroke-width="0.68"/>
<path d="M119.94 198.48 L119.94 205.2 M117.81 198.48 L122.08 198.48 M123.31 202.64 L126.97 202.64 L126.97 202 L126.67 201.36 L126.36 201.04 L125.75 200.72 L124.83 200.72 L124.22 201.04 L123.61 201.68 L123.31 202.64 L123.31 203.28 L123.61 204.24 L124.22 204.88 L124.83 205.2 L125.75 205.2 L126.36 204.88 L126.97 204.24 M129.11 200.72 L129.11 205.2 M129.11 202 L130.03 201.04 L130.64 200.72 L131.56 200.72 L132.17 201.04 L132.47 202 L132.47 205.2 M132.47 202 L133.39 201.04 L134 200.72 L134.92 200.72 L135.53 201.04 L135.84 202 L135.84 205.2 M138.28 200.72 L138.28 207.44 M138.28 201.68 L138.89 201.04 L139.5 200.72 L140.42 200.72 L141.03 201.04 L141.64 201.68 L141.95 202.64 L141.95 203.28 L141.64 204.24 L141.03 204.88 L140.42 205.2 L139.5 205.2 L138.89 204.88 L138.28 204.24 M144.09 201.36 L149.59 201.36 M144.09 203.28 L149.59 203.28 M152.64 199.76 L153.26 199.44 L154.17 198.48 L154.17 205.2 M158.45 204.56 L158.14 204.88 L158.45 205.2 L158.76 204.88 L158.45 204.56 M162.73 198.48 L161.81 198.8 L161.2 199.76 L160.9 201.36 L160.9 202.32 L161.2 203.92 L161.81 204.88 L162.73 205.2 L163.34 205.2 L164.26 204.88 L164.87 203.92 L165.17 202.32 L165.17 201.36 L164.87 199.76 L164.26 198.8 L163.34 198.48 L162.73 198.48 M167.01 202.64 L170.67 202.64 L170.67 202 L170.37 201.36 L170.06 201.04 L169.45 200.72 L168.54 200.72 L167.92 201.04 L167.31 201.68 L167.01 202.64 L167.01 203.28 L167.31 204.24 L167.92 204.88 L168.54 205.2 L169.45 205.2 L170.06 204.88 L170.67 204.24 M175.56 199.44 L175.56 205.2 M172.81 202.32 L178.31 202.32 M182.29 198.48 L181.37 198.8 L180.76 199.76 L180.45 201.36 L180.45 202.32 L180.76 203.92 L181.37 204.88 L182.29 205.2 L182.9 205.2 L183.82 204.88 L184.43 203.92 L184.73 202.32 L184.73 201.36 L184.43 199.76 L183.82 198.8 L182.9 198.48 L182.29 198.48 M190.84 198.48 L187.79 205.2 M186.57 198.48 L190.84 198.48" stroke="#10f0c0" stroke-width="0.68"/>
<path d="M119.94 212.68 L119.94 219.4 M117.81 212.68 L122.08 212.68 M123.31 216.84 L126.97 216.84 L126.97 216.2 L126.67 215.56 L126.36 215.24 L125.75 214.92 L124.83 214.92 L124.22 215.24 L123.61 215.88 L123.31 216.84 L123.31 217.48 L123.61 218.44 L124.22 219.08 L124.83 219.4 L125.75 219.4 L126.36 219.08 L126.97 218.44 M129.11 214.92 L129.11 219.4 M129.11 216.2 L130.03 215.24 L130.64 214.92 L131.56 214.92 L132.17 215.24 L132.47 216.2 L132.47 219.4 M132.47 216.2 L133.39 215.24 L134 214.92 L134.92 214.92 L135.53 215.24 L135.84 216.2 L135.84 219.4 M138.28 214.92 L138.28 221.64 M138.28 215.88 L138.89 215.24 L139.5 214.92 L140.42 214.92 L141.03 215.24 L141.64 215.88 L141.95 216.84 L141.95 217.48 L141.64 218.44 L141.03 219.08 L140.42 219.4 L139.5 219.4 L138.89 219.08 L138.28 218.44 M144.09 215.56 L149.59 215.56 M144.09 217.48 L149.59 217.48 M155.7 213.64 L155.39 213 L154.48 212.68 L153.87 212.68 L152.95 213 L152.34 213.96 L152.03 215.56 L152.03 217.16 L152.34 218.44 L152.95 219.08 L153.87 219.4 L154.17 219.4 L155.09 219.08 L155.7 218.44 L156.01 217.48 L156.01 217.16 L155.7 216.2 L155.09 215.56 L154.17 215.24 L153.87 215.24 L152.95 215.56 L152.34 216.2 L152.03 217.16 M158.45 218.76 L158.14 219.08 L158.45 219.4 L158.76 219.08 L158.45 218.76 M161.51 212.68 L164.87 212.68 L163.03 215.24 L163.95 215.24 L164.56 215.56 L164.87 215.88 L165.17 216.84 L165.17 217.48 L164.87 218.44 L164.26 219.08 L163.34 219.4 L162.42 219.4 L161.51 219.08 L161.2 218.76 L160.9 218.12 M167.01 216.84 L170.67 216.84 L170.67 216.2 L170.37 215.56 L170.06 215.24 L169.45 214.92 L168.54 214.92 L167.92 215.24 L167.31 215.88 L167.01 216.84 L167.01 217.48 L167.31 218.44 L167.92 219.08 L168.54 219.4 L169.45 219.4 L170.06 219.08 L170.67 218.44 M175.56 213.64 L175.56 219.4 M172.81 216.52 L178.31 216.52 M182.29 212.68 L181.37 213 L180.76 213.96 L180.45 215.56 L180.45 216.52 L180.76 218.12 L181.37 219.08 L182.29 219.4 L182.9 219.4 L183.82 219.08 L184.43 218.12 L184.73 216.52 L184.73 215.56 L184.43 213.96 L183.82 213 L182.9 212.68 L182.29 212.68 M190.54 213.64 L190.23 213 L189.32 212.68 L188.7 212.68 L187.79 213 L187.18 213.96 L186.87 215.56 L186.87 217.16 L187.18 218.44 L187.79 219.08 L188.7 219.4 L189.01 219.4 L189.93 219.08 L190.54 218.44 L190.84 217.48 L190.84 217.16 L190.54 216.2 L189.93 215.56 L189.01 215.24 L188.7 215.24 L187.79 215.56 L187.18 216.2 L186.87 217.16" stroke="#10b8ff" stroke-width="0.68"/>
<path d="M119.94 226.78 L119.94 233.5 M117.81 226.78 L122.08 226.78 M123.31 230.94 L126.97 230.94 L126.97 230.3 L126.67 229.66 L126.36 229.34 L125.75 229.02 L124.83 229.02 L124.22 229.34 L123.61 229.98 L123.31 230.94 L123.31 231.58 L123.61 232.54 L124.22 233.18 L124.83 233.5 L125.75 233.5 L126.36 233.18 L126.97 232.54 M129.11 229.02 L129.11 233.5 M129.11 230.3 L130.03 229.34 L130.64 229.02 L131.56 229.02 L132.17 229.34 L132.47 230.3 L132.47 233.5 M132.47 230.3 L133.39 229.34 L134 229.02 L134.92 229.02 L135.53 229.34 L135.84 230.3 L135.84 233.5 M138.28 229.02 L138.28 235.74 M138.28 229.98 L138.89 229.34 L139.5 229.02 L140.42 229.02 L141.03 229.34 L141.64 229.98 L141.95 230.94 L141.95 231.58 L141.64 232.54 L141.03 233.18 L140.42 233.5 L139.5 233.5 L138.89 233.18 L138.28 232.54 M144.09 229.66 L149.59 229.66 M144.09 231.58 L149.59 231.58 M152.34 226.78 L155.7 226.78 L153.87 229.34 L154.78 229.34 L155.39 229.66 L155.7 229.98 L156.01 230.94 L156.01 231.58 L155.7 232.54 L155.09 233.18 L154.17 233.5 L153.26 233.5 L152.34 233.18 L152.03 232.86 L151.73 232.22 M158.45 232.86 L158.14 233.18 L158.45 233.5 L158.76 233.18 L158.45 232.86 M161.2 228.38 L161.2 228.06 L161.51 227.42 L161.81 227.1 L162.42 226.78 L163.65 226.78 L164.26 227.1 L164.56 227.42 L164.87 228.06 L164.87 228.7 L164.56 229.34 L163.95 230.3 L160.9 233.5 L165.17 233.5 M167.01 230.94 L170.67 230.94 L170.67 230.3 L170.37 229.66 L170.06 229.34 L169.45 229.02 L168.54 229.02 L167.92 229.34 L167.31 229.98 L167.01 230.94 L167.01 231.58 L167.31 232.54 L167.92 233.18 L168.54 233.5 L169.45 233.5 L170.06 233.18 L170.67 232.54 M175.56 227.74 L175.56 233.5 M172.81 230.62 L178.31 230.62 M182.29 226.78 L181.37 227.1 L180.76 228.06 L180.45 229.66 L180.45 230.62 L180.76 232.22 L181.37 233.18 L182.29 233.5 L182.9 233.5 L183.82 233.18 L184.43 232.22 L184.73 230.62 L184.73 229.66 L184.43 228.06 L183.82 227.1 L182.9 226.78 L182.29 226.78 M190.54 227.74 L190.23 227.1 L189.32 226.78 L188.7 226.78 L187.79 227.1 L187.18 228.06 L186.87 229.66 L186.87 231.26 L187.18 232.54 L187.79 233.18 L188.7 233.5 L189.01 233.5 L189.93 233.18 L190.54 232.54 L190.84 231.58 L190.84 231.26 L190.54 230.3 L189.93 229.66 L189.01 229.34 L188.7 229.34 L187.79 229.66 L187.18 230.3 L186.87 231.26" stroke="#1040ff" stroke-width="0.68"/>
<path d="M119.94 240.78 L119.94 247.5 M117.81 240.78 L122.08 240.78 M123.31 244.94 L126.97 244.94 L126.97 244.3 L126.67 243.66 L126.36 243.34 L125.75 243.02 L124.83 243.02 L124.22 243.34 L123.61 243.98 L123.31 244.94 L123.31 245.58 L123.61 246.54 L124.22 247.18 L124.83 247.5 L125.75 247.5 L126.36 247.18 L126.97 246.54 M129.11 243.02 L129.11 247.5 M129.11 244.3 L130.03 243.34 L130.64 243.02 L131.56 243.02 L132.17 243.34 L132.47 244.3 L132.47 247.5 M132.47 244.3 L133.39 243.34 L134 243.02 L134.92 243.02 L135.53 243.34 L135.84 244.3 L135.84 247.5 M138.28 243.02 L138.28 249.74 M138.28 243.98 L138.89 243.34 L139.5 243.02 L140.42 243.02 L141.03 243.34 L141.64 243.98 L141.95 244.94 L141.95 245.58 L141.64 246.54 L141.03 247.18 L140.42 247.5 L139.5 247.5 L138.89 247.18 L138.28 246.54 M144.09 243.66 L149.59 243.66 M144.09 245.58 L149.59 245.58 M152.64 242.06 L153.26 241.74 L154.17 240.78 L154.17 247.5 M158.45 246.86 L158.14 247.18 L158.45 247.5 L158.76 247.18 L158.45 246.86 M164.87 241.74 L164.56 241.1 L163.65 240.78 L163.03 240.78 L162.12 241.1 L161.51 242.06 L161.2 243.66 L161.2 245.26 L161.51 246.54 L162.12 247.18 L163.03 247.5 L163.34 247.5 L164.26 247.18 L164.87 246.54 L165.17 245.58 L165.17 245.26 L164.87 244.3 L164.26 243.66 L163.34 243.34 L163.03 243.34 L162.12 243.66 L161.51 244.3 L161.2 245.26 M167.01 244.94 L170.67 244.94 L170.67 244.3 L170.37 243.66 L170.06 243.34 L169.45 243.02 L168.54 243.02 L167.92 243.34 L167.31 243.98 L167.01 244.94 L167.01 245.58 L167.31 246.54 L167.92 247.18 L168.54 247.5 L169.45 247.5 L170.06 247.18 L170.67 246.54 M175.56 241.74 L175.56 247.5 M172.81 244.62 L178.31 244.62 M182.29 240.78 L181.37 241.1 L180.76 242.06 L180.45 243.66 L180.45 244.62 L180.76 246.22 L181.37 247.18 L182.29 247.5 L182.9 247.5 L183.82 247.18 L184.43 246.22 L184.73 244.62 L184.73 243.66 L184.43 242.06 L183.82 241.1 L182.9 240.78 L182.29 240.78 M190.54 241.74 L190.23 241.1 L189.32 240.78 L188.7 240.78 L187.79 241.1 L187.18 242.06 L186.87 243.66 L186.87 245.26 L187.18 246.54 L187.79 247.18 L188.7 247.5 L189.01 247.5 L189.93 247.18 L190.54 246.54 L190.84 245.58 L190.84 245.26 L190.54 244.3 L189.93 243.66 L189.01 243.34 L188.7 243.34 L187.79 243.66 L187.18 244.3 L186.87 245.26" stroke="#7a1fc8" stroke-width="0.68"/>
<path d="M119.94 254.68 L119.94 261.4 M117.81 254.68 L122.08 254.68 M123.31 258.84 L126.97 258.84 L126.97 258.2 L126.67 257.56 L126.36 257.24 L125.75 256.92 L124.83 256.92 L124.22 257.24 L123.61 257.88 L123.31 258.84 L123.31 259.48 L123.61 260.44 L124.22 261.08 L124.83 261.4 L125.75 261.4 L126.36 261.08 L126.97 260.44 M129.11 256.92 L129.11 261.4 M129.11 258.2 L130.03 257.24 L130.64 256.92 L131.56 256.92 L132.17 257.24 L132.47 258.2 L132.47 261.4 M132.47 258.2 L133.39 257.24 L134 256.92 L134.92 256.92 L135.53 257.24 L135.84 258.2 L135.84 261.4 M138.28 256.92 L138.28 263.64 M138.28 257.88 L138.89 257.24 L139.5 256.92 L140.42 256.92 L141.03 257.24 L141.64 257.88 L141.95 258.84 L141.95 259.48 L141.64 260.44 L141.03 261.08 L140.42 261.4 L139.5 261.4 L138.89 261.08 L138.28 260.44 M144.09 257.56 L149.59 257.56 M144.09 259.48 L149.59 259.48 M152.64 255.96 L153.26 255.64 L154.17 254.68 L154.17 261.4 M158.45 260.76 L158.14 261.08 L158.45 261.4 L158.76 261.08 L158.45 260.76 M162.73 254.68 L161.81 255 L161.2 255.96 L160.9 257.56 L160.9 258.52 L161.2 260.12 L161.81 261.08 L162.73 261.4 L163.34 261.4 L164.26 261.08 L164.87 260.12 L165.17 258.52 L165.17 257.56 L164.87 255.96 L164.26 255 L163.34 254.68 L162.73 254.68 M167.01 258.84 L170.67 258.84 L170.67 258.2 L170.37 257.56 L170.06 257.24 L169.45 256.92 L168.54 256.92 L167.92 257.24 L167.31 257.88 L167.01 258.84 L167.01 259.48 L167.31 260.44 L167.92 261.08 L168.54 261.4 L169.45 261.4 L170.06 261.08 L170.67 260.44 M175.56 255.64 L175.56 261.4 M172.81 258.52 L178.31 258.52 M182.29 254.68 L181.37 255 L180.76 255.96 L180.45 257.56 L180.45 258.52 L180.76 260.12 L181.37 261.08 L182.29 261.4 L182.9 261.4 L183.82 261.08 L184.43 260.12 L184.73 258.52 L184.73 257.56 L184.43 255.96 L183.82 255 L182.9 254.68 L182.29 254.68 M190.54 255.64 L190.23 255 L189.32 254.68 L188.7 254.68 L187.79 255 L187.18 255.96 L186.87 257.56 L186.87 259.16 L187.18 260.44 L187.79 261.08 L188.7 261.4 L189.01 261.4 L189.93 261.08 L190.54 260.44 L190.84 259.48 L190.84 259.16 L190.54 258.2 L189.93 257.56 L189.01 257.24 L188.7 257.24 L187.79 257.56 L187.18 258.2 L186.87 259.16" stroke="#000" stroke-width="0.68"/>
<path d="M210.14 184.38 L210.14 191.1 M208.01 184.38 L212.28 184.38 M213.51 188.54 L217.17 188.54 L217.17 187.9 L216.87 187.26 L216.56 186.94 L215.95 186.62 L215.03 186.62 L214.42 186.94 L213.81 187.58 L213.51 188.54 L213.51 189.18 L213.81 190.14 L214.42 190.78 L215.03 191.1 L215.95 191.1 L216.56 190.78 L217.17 190.14 M219.31 186.62 L219.31 191.1 M219.31 187.9 L220.23 186.94 L220.84 186.62 L221.76 186.62 L222.37 186.94 L222.67 187.9 L222.67 191.1 M222.67 187.9 L223.59 186.94 L224.2 186.62 L225.12 186.62 L225.73 186.94 L226.04 187.9 L226.04 191.1 M228.48 186.62 L228.48 193.34 M228.48 187.58 L229.09 186.94 L229.7 186.62 L230.62 186.62 L231.23 186.94 L231.84 187.58 L232.15 188.54 L232.15 189.18 L231.84 190.14 L231.23 190.78 L230.62 191.1 L229.7 191.1 L229.09 190.78 L228.48 190.14 M234.29 187.26 L239.79 187.26 M234.29 189.18 L239.79 189.18 M242.84 185.66 L243.46 185.34 L244.37 184.38 L244.37 191.1 M248.65 190.46 L248.34 190.78 L248.65 191.1 L248.96 190.78 L248.65 190.46 M252.93 184.38 L252.01 184.7 L251.4 185.66 L251.1 187.26 L251.1 188.22 L251.4 189.82 L252.01 190.78 L252.93 191.1 L253.54 191.1 L254.46 190.78 L255.07 189.82 L255.37 188.22 L255.37 187.26 L255.07 185.66 L254.46 184.7 L253.54 184.38 L252.93 184.38 M257.21 188.54 L260.87 188.54 L260.87 187.9 L260.57 187.26 L260.26 186.94 L259.65 186.62 L258.74 186.62 L258.12 186.94 L257.51 187.58 L257.21 188.54 L257.21 189.18 L257.51 190.14 L258.12 190.78 L258.74 191.1 L259.65 191.1 L260.26 190.78 L260.87 190.14 M265.76 185.34 L265.76 191.1 M263.01 188.22 L268.51 188.22 M272.49 184.38 L271.57 184.7 L270.96 185.66 L270.65 187.26 L270.65 188.22 L270.96 189.82 L271.57 190.78 L272.49 191.1 L273.1 191.1 L274.02 190.78 L274.63 189.82 L274.93 188.22 L274.93 187.26 L274.63 185.66 L274.02 184.7 L273.1 184.38 L272.49 184.38 M278.29 184.38 L277.38 184.7 L277.07 185.34 L277.07 185.98 L277.38 186.62 L277.99 186.94 L279.21 187.26 L280.13 187.58 L280.74 188.22 L281.04 188.86 L281.04 189.82 L280.74 190.46 L280.43 190.78 L279.52 191.1 L278.29 191.1 L277.38 190.78 L277.07 190.46 L276.77 189.82 L276.77 188.86 L277.07 188.22 L277.68 187.58 L278.6 187.26 L279.82 186.94 L280.43 186.62 L280.74 185.98 L280.74 185.34 L280.43 184.7 L279.52 184.38 L278.29 184.38" stroke="#ff0808" stroke-width="0.68"/>
<path d="M210.14 198.48 L210.14 205.2 M208.01 198.48 L212.28 198.48 M213.51 202.64 L217.17 202.64 L217.17 202 L216.87 201.36 L216.56 201.04 L215.95 200.72 L215.03 200.72 L214.42 201.04 L213.81 201.68 L213.51 202.64 L213.51 203.28 L213.81 204.24 L214.42 204.88 L215.03 205.2 L215.95 205.2 L216.56 204.88 L217.17 204.24 M219.31 200.72 L219.31 205.2 M219.31 202 L220.23 201.04 L220.84 200.72 L221.76 200.72 L222.37 201.04 L222.67 202 L222.67 205.2 M222.67 202 L223.59 201.04 L224.2 200.72 L225.12 200.72 L225.73 201.04 L226.04 202 L226.04 205.2 M228.48 200.72 L228.48 207.44 M228.48 201.68 L229.09 201.04 L229.7 200.72 L230.62 200.72 L231.23 201.04 L231.84 201.68 L232.15 202.64 L232.15 203.28 L231.84 204.24 L231.23 204.88 L230.62 205.2 L229.7 205.2 L229.09 204.88 L228.48 204.24 M234.29 201.36 L239.79 201.36 M234.29 203.28 L239.79 203.28 M243.46 198.48 L242.54 198.8 L242.23 199.44 L242.23 200.08 L242.54 200.72 L243.15 201.04 L244.37 201.36 L245.29 201.68 L245.9 202.32 L246.21 202.96 L246.21 203.92 L245.9 204.56 L245.59 204.88 L244.68 205.2 L243.46 205.2 L242.54 204.88 L242.23 204.56 L241.93 203.92 L241.93 202.96 L242.23 202.32 L242.84 201.68 L243.76 201.36 L244.98 201.04 L245.59 200.72 L245.9 200.08 L245.9 199.44 L245.59 198.8 L244.68 198.48 L243.46 198.48 M248.65 204.56 L248.34 204.88 L248.65 205.2 L248.96 204.88 L248.65 204.56 M255.07 200.72 L254.76 201.68 L254.15 202.32 L253.23 202.64 L252.93 202.64 L252.01 202.32 L251.4 201.68 L251.1 200.72 L251.1 200.4 L251.4 199.44 L252.01 198.8 L252.93 198.48 L253.23 198.48 L254.15 198.8 L254.76 199.44 L255.07 200.72 L255.07 202.32 L254.76 203.92 L254.15 204.88 L253.23 205.2 L252.62 205.2 L251.71 204.88 L251.4 204.24 M257.21 202.64 L260.87 202.64 L260.87 202 L260.57 201.36 L260.26 201.04 L259.65 200.72 L258.74 200.72 L258.12 201.04 L257.51 201.68 L257.21 202.64 L257.21 203.28 L257.51 204.24 L258.12 204.88 L258.74 205.2 L259.65 205.2 L260.26 204.88 L260.87 204.24 M265.76 199.44 L265.76 205.2 M263.01 202.32 L268.51 202.32 M272.49 198.48 L271.57 198.8 L270.96 199.76 L270.65 201.36 L270.65 202.32 L270.96 203.92 L271.57 204.88 L272.49 205.2 L273.1 205.2 L274.02 204.88 L274.63 203.92 L274.93 202.32 L274.93 201.36 L274.63 199.76 L274.02 198.8 L273.1 198.48 L272.49 198.48 M281.04 198.48 L277.99 205.2 M276.77 198.48 L281.04 198.48" stroke="#ff4808" stroke-width="0.68"/>
<path d="M210.14 212.68 L210.14 219.4 M208.01 212.68 L212.28 212.68 M213.51 216.84 L217.17 216.84 L217.17 216.2 L216.87 215.56 L216.56 215.24 L215.95 214.92 L215.03 214.92 L214.42 215.24 L213.81 215.88 L213.51 216.84 L213.51 217.48 L213.81 218.44 L214.42 219.08 L215.03 219.4 L215.95 219.4 L216.56 219.08 L217.17 218.44 M219.31 214.92 L219.31 219.4 M219.31 216.2 L220.23 215.24 L220.84 214.92 L221.76 214.92 L222.37 215.24 L222.67 216.2 L222.67 219.4 M222.67 216.2 L223.59 215.24 L224.2 214.92 L225.12 214.92 L225.73 215.24 L226.04 216.2 L226.04 219.4 M228.48 214.92 L228.48 221.64 M228.48 215.88 L229.09 215.24 L229.7 214.92 L230.62 214.92 L231.23 215.24 L231.84 215.88 L232.15 216.84 L232.15 217.48 L231.84 218.44 L231.23 219.08 L230.62 219.4 L229.7 219.4 L229.09 219.08 L228.48 218.44 M234.29 215.56 L239.79 215.56 M234.29 217.48 L239.79 217.48 M246.21 212.68 L243.15 219.4 M241.93 212.68 L246.21 212.68 M248.65 218.76 L248.34 219.08 L248.65 219.4 L248.96 219.08 L248.65 218.76 M255.07 214.92 L254.76 215.88 L254.15 216.52 L253.23 216.84 L252.93 216.84 L252.01 216.52 L251.4 215.88 L251.1 214.92 L251.1 214.6 L251.4 213.64 L252.01 213 L252.93 212.68 L253.23 212.68 L254.15 213 L254.76 213.64 L255.07 214.92 L255.07 216.52 L254.76 218.12 L254.15 219.08 L253.23 219.4 L252.62 219.4 L251.71 219.08 L251.4 218.44 M257.21 216.84 L260.87 216.84 L260.87 216.2 L260.57 215.56 L260.26 215.24 L259.65 214.92 L258.74 214.92 L258.12 215.24 L257.51 215.88 L257.21 216.84 L257.21 217.48 L257.51 218.44 L258.12 219.08 L258.74 219.4 L259.65 219.4 L260.26 219.08 L260.87 218.44 M265.76 213.64 L265.76 219.4 M263.01 216.52 L268.51 216.52 M272.49 212.68 L271.57 213 L270.96 213.96 L270.65 215.56 L270.65 216.52 L270.96 218.12 L271.57 219.08 L272.49 219.4 L273.1 219.4 L274.02 219.08 L274.63 218.12 L274.93 216.52 L274.93 215.56 L274.63 213.96 L274.02 213 L273.1 212.68 L272.49 212.68 M281.04 212.68 L277.99 219.4 M276.77 212.68 L281.04 212.68" stroke="#ff8010" stroke-width="0.68"/>
<path d="M210.14 226.78 L210.14 233.5 M208.01 226.78 L212.28 226.78 M213.51 230.94 L217.17 230.94 L217.17 230.3 L216.87 229.66 L216.56 229.34 L215.95 229.02 L215.03 229.02 L214.42 229.34 L213.81 229.98 L213.51 230.94 L213.51 231.58 L213.81 232.54 L214.42 233.18 L215.03 233.5 L215.95 233.5 L216.56 233.18 L217.17 232.54 M219.31 229.02 L219.31 233.5 M219.31 230.3 L220.23 229.34 L220.84 229.02 L221.76 229.02 L222.37 229.34 L222.67 230.3 L222.67 233.5 M222.67 230.3 L223.59 229.34 L224.2 229.02 L225.12 229.02 L225.73 229.34 L226.04 230.3 L226.04 233.5 M228.48 229.02 L228.48 235.74 M228.48 229.98 L229.09 229.34 L229.7 229.02 L230.62 229.02 L231.23 229.34 L231.84 229.98 L232.15 230.94 L232.15 231.58 L231.84 232.54 L231.23 233.18 L230.62 233.5 L229.7 233.5 L229.09 233.18 L228.48 232.54 M234.29 229.66 L239.79 229.66 M234.29 231.58 L239.79 231.58 M245.9 227.74 L245.59 227.1 L244.68 226.78 L244.07 226.78 L243.15 227.1 L242.54 228.06 L242.23 229.66 L242.23 231.26 L242.54 232.54 L243.15 233.18 L244.07 233.5 L244.37 233.5 L245.29 233.18 L245.9 232.54 L246.21 231.58 L246.21 231.26 L245.9 230.3 L245.29 229.66 L244.37 229.34 L244.07 229.34 L243.15 229.66 L242.54 230.3 L242.23 231.26 M248.65 232.86 L248.34 233.18 L248.65 233.5 L248.96 233.18 L248.65 232.86 M251.71 226.78 L255.07 226.78 L253.23 229.34 L254.15 229.34 L254.76 229.66 L255.07 229.98 L255.37 230.94 L255.37 231.58 L255.07 232.54 L254.46 233.18 L253.54 233.5 L252.62 233.5 L251.71 233.18 L251.4 232.86 L251.1 232.22 M257.21 230.94 L260.87 230.94 L260.87 230.3 L260.57 229.66 L260.26 229.34 L259.65 229.02 L258.74 229.02 L258.12 229.34 L257.51 229.98 L257.21 230.94 L257.21 231.58 L257.51 232.54 L258.12 233.18 L258.74 233.5 L259.65 233.5 L260.26 233.18 L260.87 232.54 M265.76 227.74 L265.76 233.5 M263.01 230.62 L268.51 230.62 M272.49 226.78 L271.57 227.1 L270.96 228.06 L270.65 229.66 L270.65 230.62 L270.96 232.22 L271.57 233.18 L272.49 233.5 L273.1 233.5 L274.02 233.18 L274.63 232.22 L274.93 230.62 L274.93 229.66 L274.63 228.06 L274.02 227.1 L273.1 226.78 L272.49 226.78 M281.04 226.78 L277.99 233.5 M276.77 226.78 L281.04 226.78" stroke="#ffb810" stroke-width="0.68"/>
<path d="M210.14 240.78 L210.14 247.5 M208.01 240.78 L212.28 240.78 M213.51 244.94 L217.17 244.94 L217.17 244.3 L216.87 243.66 L216.56 243.34 L215.95 243.02 L215.03 243.02 L214.42 243.34 L213.81 243.98 L213.51 244.94 L213.51 245.58 L213.81 246.54 L214.42 247.18 L215.03 247.5 L215.95 247.5 L216.56 247.18 L217.17 246.54 M219.31 243.02 L219.31 247.5 M219.31 244.3 L220.23 243.34 L220.84 243.02 L221.76 243.02 L222.37 243.34 L222.67 244.3 L222.67 247.5 M222.67 244.3 L223.59 243.34 L224.2 243.02 L225.12 243.02 L225.73 243.34 L226.04 244.3 L226.04 247.5 M228.48 243.02 L228.48 249.74 M228.48 243.98 L229.09 243.34 L229.7 243.02 L230.62 243.02 L231.23 243.34 L231.84 243.98 L232.15 244.94 L232.15 245.58 L231.84 246.54 L231.23 247.18 L230.62 247.5 L229.7 247.5 L229.09 247.18 L228.48 246.54 M234.29 243.66 L239.79 243.66 M234.29 245.58 L239.79 245.58 M245.59 240.78 L242.54 240.78 L242.23 243.66 L242.54 243.34 L243.46 243.02 L244.37 243.02 L245.29 243.34 L245.9 243.98 L246.21 244.94 L246.21 245.58 L245.9 246.54 L245.29 247.18 L244.37 247.5 L243.46 247.5 L242.54 247.18 L242.23 246.86 L241.93 246.22 M248.65 246.86 L248.34 247.18 L248.65 247.5 L248.96 247.18 L248.65 246.86 M252.93 240.78 L252.01 241.1 L251.4 242.06 L251.1 243.66 L251.1 244.62 L251.4 246.22 L252.01 247.18 L252.93 247.5 L253.54 247.5 L254.46 247.18 L255.07 246.22 L255.37 244.62 L255.37 243.66 L255.07 242.06 L254.46 241.1 L253.54 240.78 L252.93 240.78 M257.21 244.94 L260.87 244.94 L260.87 244.3 L260.57 243.66 L260.26 243.34 L259.65 243.02 L258.74 243.02 L258.12 243.34 L257.51 243.98 L257.21 244.94 L257.21 245.58 L257.51 246.54 L258.12 247.18 L258.74 247.5 L259.65 247.5 L260.26 247.18 L260.87 246.54 M265.76 241.74 L265.76 247.5 M263.01 244.62 L268.51 244.62 M272.49 240.78 L271.57 241.1 L270.96 242.06 L270.65 243.66 L270.65 244.62 L270.96 246.22 L271.57 247.18 L272.49 247.5 L273.1 247.5 L274.02 247.18 L274.63 246.22 L274.93 244.62 L274.93 243.66 L274.63 242.06 L274.02 241.1 L273.1 240.78 L272.49 240.78 M281.04 240.78 L277.99 247.5 M276.77 240.78 L281.04 240.78" stroke="#ffe810" stroke-width="0.68"/>
<path d="M210.14 254.68 L210.14 261.4 M208.01 254.68 L212.28 254.68 M213.51 258.84 L217.17 258.84 L217.17 258.2 L216.87 257.56 L216.56 257.24 L215.95 256.92 L215.03 256.92 L214.42 257.24 L213.81 257.88 L213.51 258.84 L213.51 259.48 L213.81 260.44 L214.42 261.08 L215.03 261.4 L215.95 261.4 L216.56 261.08 L217.17 260.44 M219.31 256.92 L219.31 261.4 M219.31 258.2 L220.23 257.24 L220.84 256.92 L221.76 256.92 L222.37 257.24 L222.67 258.2 L222.67 261.4 M222.67 258.2 L223.59 257.24 L224.2 256.92 L225.12 256.92 L225.73 257.24 L226.04 258.2 L226.04 261.4 M228.48 256.92 L228.48 263.64 M228.48 257.88 L229.09 257.24 L229.7 256.92 L230.62 256.92 L231.23 257.24 L231.84 257.88 L232.15 258.84 L232.15 259.48 L231.84 260.44 L231.23 261.08 L230.62 261.4 L229.7 261.4 L229.09 261.08 L228.48 260.44 M234.29 257.56 L239.79 257.56 M234.29 259.48 L239.79 259.48 M242.54 254.68 L245.9 254.68 L244.07 257.24 L244.98 257.24 L245.59 257.56 L245.9 257.88 L246.21 258.84 L246.21 259.48 L245.9 260.44 L245.29 261.08 L244.37 261.4 L243.46 261.4 L242.54 261.08 L242.23 260.76 L241.93 260.12 M248.65 260.76 L248.34 261.08 L248.65 261.4 L248.96 261.08 L248.65 260.76 M251.4 256.28 L251.4 255.96 L251.71 255.32 L252.01 255 L252.62 254.68 L253.85 254.68 L254.46 255 L254.76 255.32 L255.07 255.96 L255.07 256.6 L254.76 257.24 L254.15 258.2 L251.1 261.4 L255.37 261.4 M257.21 258.84 L260.87 258.84 L260.87 258.2 L260.57 257.56 L260.26 257.24 L259.65 256.92 L258.74 256.92 L258.12 257.24 L257.51 257.88 L257.21 258.84 L257.21 259.48 L257.51 260.44 L258.12 261.08 L258.74 261.4 L259.65 261.4 L260.26 261.08 L260.87 260.44 M265.76 255.64 L265.76 261.4 M263.01 258.52 L268.51 258.52 M272.49 254.68 L271.57 255 L270.96 255.96 L270.65 257.56 L270.65 258.52 L270.96 260.12 L271.57 261.08 L272.49 261.4 L273.1 261.4 L274.02 261.08 L274.63 260.12 L274.93 258.52 L274.93 257.56 L274.63 255.96 L274.02 255 L273.1 254.68 L272.49 254.68 M281.04 254.68 L277.99 261.4 M276.77 254.68 L281.04 254.68" stroke="#c8ff10" stroke-width="0.68"/>
</g>
</svg>
</body></html>
